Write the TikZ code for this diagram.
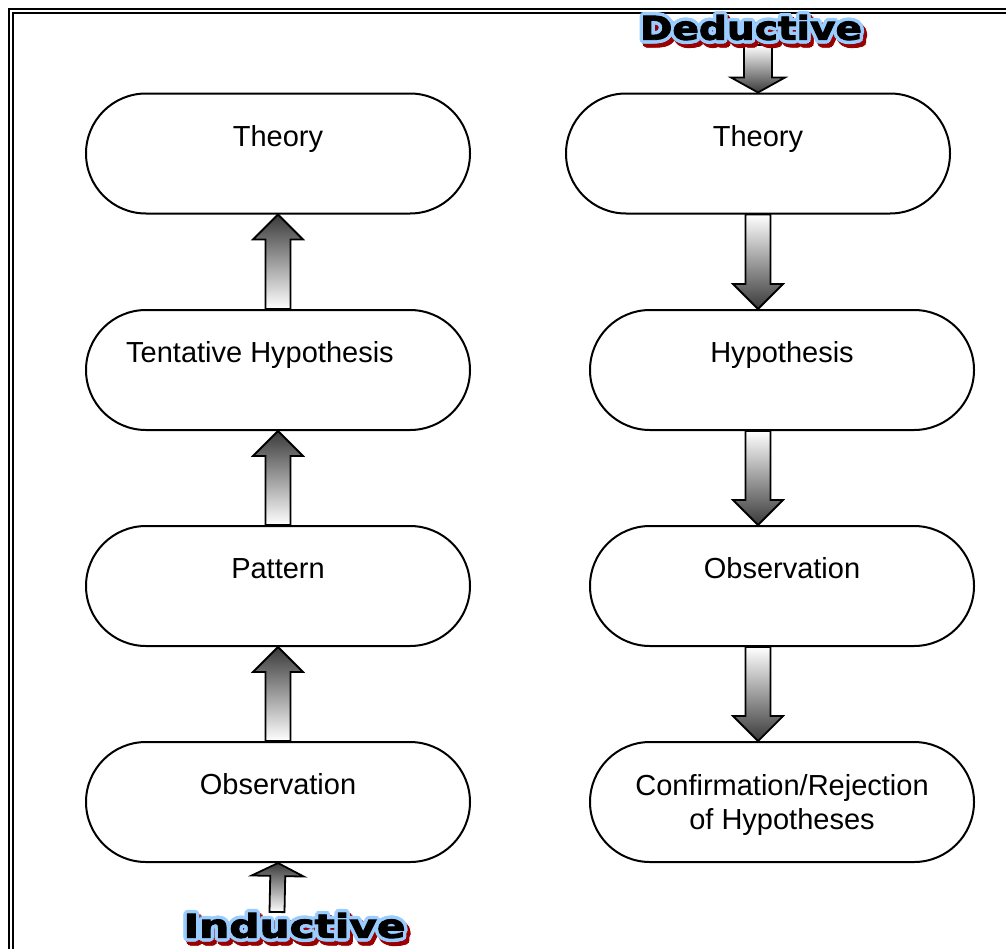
\documentclass[tikz,border=0pt]{standalone}
\usepackage{fontspec}
\usepackage{graphicx}
\setmainfont{Liberation Sans}
\newfontfamily\artfont[FakeBold=2.5]{DejaVu Sans}
\usetikzlibrary{calc}
\definecolor{artblue}{HTML}{99CCFF}
\definecolor{artred}{HTML}{990000}
\definecolor{arrowdark}{HTML}{3A3A3A}

\tikzset{
  stadium/.style={draw, line width=2pt, fill=white, rectangle, rounded corners=60pt,
    minimum width=384pt, minimum height=120pt, inner sep=0pt},
  lbl/.style={font=\fontsize{29}{34}\selectfont, anchor=base, inner sep=0pt},
  fatarrow/.style={draw, line width=1.8pt, line join=miter},
  uparr/.style={fatarrow, top color=arrowdark, bottom color=white},
  downarr/.style={fatarrow, top color=white, bottom color=arrowdark},
  artlayer/.style={inner sep=0pt, anchor=center},
}

% #1 style, #2 tail, #3 tip, #4 half shaft width, #5 half head width, #6 head length (all in pt)
\newcommand\fatarr[6]{%
  \coordinate (hb) at ($(#3)!#6pt!(#2)$);
  \draw[#1] ($(#2)!#4pt!90:(#3)$) -- ($(hb)!#4pt!90:(#3)$) -- ($(hb)!#5pt!90:(#3)$)
    -- (#3) -- ($(hb)!#5pt!-90:(#3)$) -- ($(hb)!#4pt!-90:(#3)$)
    -- ($(#2)!#4pt!-90:(#3)$) -- cycle;
}

% #1 name, #2 centre, #3 word
\newcommand\wordart[3]{%
  \foreach \a in {0,30,...,330} {
    \node[artlayer, text=artred] (#1-s\a) at ($(#2)+(3,4)+(\a:3.5)$)
      {\resizebox{222pt}{25pt}{\artfont\bfseries #3}};
  }
  \foreach \a in {0,30,...,330} {
    \node[artlayer, text=artblue] (#1-o\a) at ($(#2)+(\a:3.5)$)
      {\resizebox{222pt}{25pt}{\artfont\bfseries #3}};
  }
  \node[artlayer, text=black] (#1) at (#2)
    {\resizebox{222pt}{25pt}{\artfont\bfseries #3}};
}

\begin{document}
\begin{tikzpicture}[x=1pt, y=-1pt]
\useasboundingbox (0,0) rectangle (1006,948);
\clip (0,0) rectangle (1006,948);

% frame
\draw[line width=2.4pt] (9,9) rectangle (1040,980);
\draw[line width=1.4pt] (12.8,12.8) rectangle (1040,980);

% boxes
\node[stadium] (thL)   at (278,153.5) {};
\node[stadium] (thypL) at (278,370) {};
\node[stadium] (patL)  at (278,586) {};
\node[stadium] (obsL)  at (278,802) {};
\node[stadium] (thR)   at (758,153.5) {};
\node[stadium] (hypR)  at (782,370) {};
\node[stadium] (obsR)  at (782,586) {};
\node[stadium] (confR) at (782,802) {};

% labels
\node[lbl] (tthL)   at ($(thL.center)+(0,-7.5)$) {Theory};
\node[lbl] (tthypL) at ($(thypL.center)+(-18,-8)$) {Tentative Hypothesis};
\node[lbl] (tpatL)  at ($(patL.center)+(0,-8)$) {Pattern};
\node[lbl] (tobsL)  at ($(obsL.center)+(0,-8)$) {Observation};
\node[lbl] (tthR)   at ($(thR.center)+(0,-7.5)$) {Theory};
\node[lbl] (thypR)  at ($(hypR.center)+(0,-8)$) {Hypothesis};
\node[lbl] (tobsR)  at ($(obsR.center)+(0,-8)$) {Observation};
\node[lbl] (tconf1) at ($(confR.center)+(0,-7)$) {Confirmation/Rejection};
\node[lbl] (tconf2) at ($(confR.center)+(0,27)$) {of Hypotheses};

% inductive arrows (up)
\coordinate (indtail) at (277,912);
\fatarr{uparr}{indtail}{obsL.south}{7.5}{26}{13}
\fatarr{uparr}{obsL.north}{patL.south}{12.5}{25}{25}
\fatarr{uparr}{patL.north}{thypL.south}{12.5}{25}{25}
\fatarr{uparr}{thypL.north}{thL.south}{12.5}{25}{25}

% deductive arrows (down)
\coordinate (dedtail) at (758,45);
\fatarr{downarr}{dedtail}{thR.north}{14}{27}{15}
\fatarr{downarr}{thR.south}{thR.south |- hypR.north}{12.5}{25}{25}
\fatarr{downarr}{thR.south |- hypR.south}{thR.south |- obsR.north}{12.5}{25}{25}
\fatarr{downarr}{thR.south |- obsR.south}{thR.south |- confR.north}{12.5}{25}{25}

% word art titles
\wordart{ded}{751,27.5}{Deductive}
\wordart{ind}{294.5,925.5}{Inductive}
\end{tikzpicture}
\end{document}
